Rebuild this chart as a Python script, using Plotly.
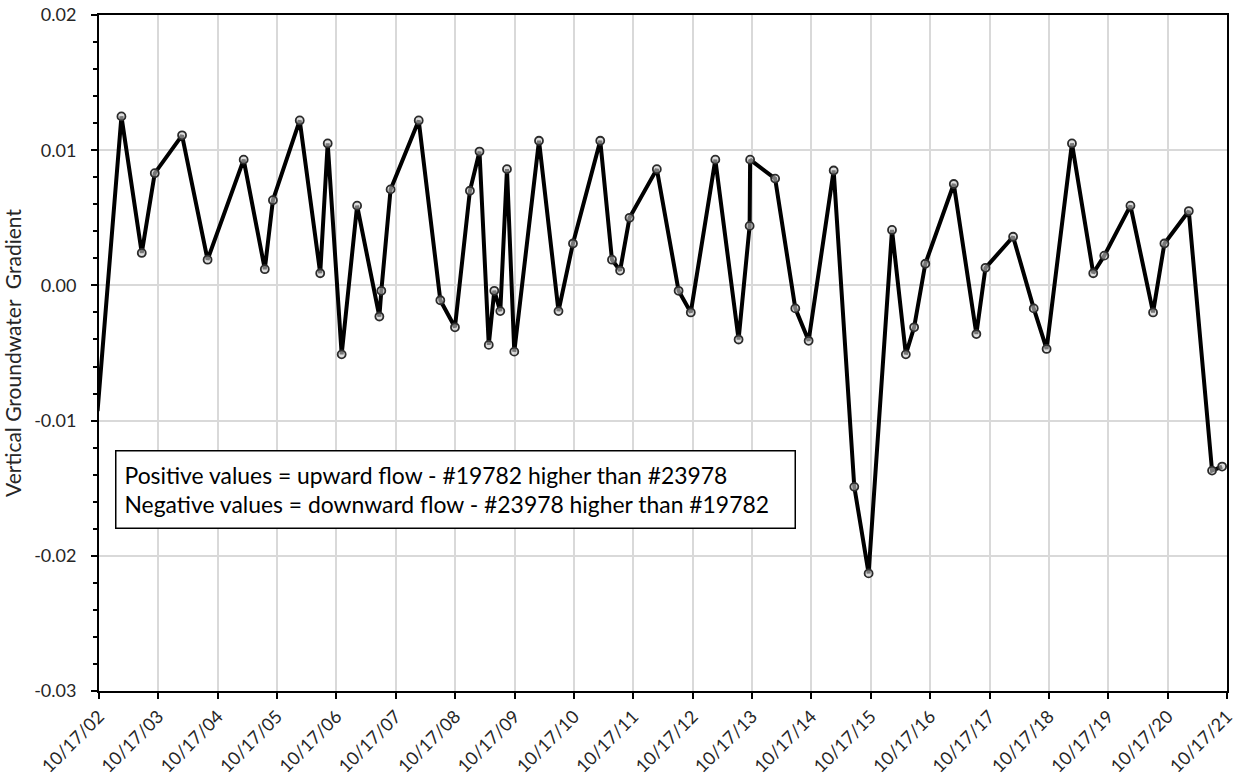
import plotly.graph_objects as go

dates = [
    "2002-10-08", "2003-03-04", "2003-07-07", "2003-09-25", "2004-03-11", "2004-08-15",
    "2005-03-25", "2005-08-02", "2005-09-21", "2006-03-05", "2006-07-09", "2006-08-24",
    "2006-11-18", "2007-02-21", "2007-07-08", "2007-07-20", "2007-09-15", "2008-03-06",
    "2008-07-17", "2008-10-15", "2009-01-15", "2009-03-15", "2009-05-11", "2009-06-14",
    "2009-07-21", "2009-08-31", "2009-10-15", "2010-03-16", "2010-07-14", "2010-10-11",
    "2011-03-28", "2011-06-08", "2011-07-28", "2011-09-24", "2012-03-10", "2012-07-22",
    "2012-10-05", "2013-03-05", "2013-07-26", "2013-10-02", "2013-10-05", "2014-03-08",
    "2014-07-10", "2014-09-30", "2015-03-03", "2015-07-08", "2015-10-04", "2016-02-25",
    "2016-05-20", "2016-07-10", "2016-09-17", "2017-03-11", "2017-07-28", "2017-09-22",
    "2018-03-11", "2018-07-16", "2018-10-03", "2019-03-08", "2019-07-17", "2019-09-23",
    "2020-03-02", "2020-07-19", "2020-09-27", "2021-02-24", "2021-07-17", "2021-09-17",
]
gradient = [
    -0.0093, 0.0125, 0.0024, 0.0083, 0.0111, 0.0019,
    0.0093, 0.0012, 0.0063, 0.0122, 0.0009, 0.0105,
    -0.0051, 0.0059, -0.0023, -0.0004, 0.0071, 0.0122,
    -0.0011, -0.0031, 0.0070, 0.0099, -0.0044, -0.0004,
    -0.0019, 0.0086, -0.0049, 0.0107, -0.0019, 0.0031,
    0.0107, 0.0019, 0.0011, 0.0050, 0.0086, -0.0004,
    -0.0020, 0.0093, -0.0040, 0.0044, 0.0093, 0.0079,
    -0.0017, -0.0041, 0.0085, -0.0149, -0.0213, 0.0041,
    -0.0051, -0.0031, 0.0016, 0.0075, -0.0036, 0.0013,
    0.0036, -0.0017, -0.0047, 0.0105, 0.0009, 0.0022,
    0.0059, -0.0020, 0.0031, 0.0055, -0.0137, -0.0134,
]

x_tickvals = [f"{y}-10-17" for y in range(2002, 2022)]
x_ticktext = [f"10/17/{y % 100:02d}" for y in range(2002, 2022)]
y_tickvals = [0.02, 0.01, 0.0, -0.01, -0.02, -0.03]
y_ticktext = ["0.02", "0.01", "0.00", "-0.01", "-0.02", "-0.03"]

note_lines = [
    "Positive values = upward flow - #19782 higher than #23978",
    "Negative values = downward flow - #23978 higher than #19782",
]

font_family = "Lato, 'Open Sans', sans-serif"
text_color = "#262626"

fig = go.Figure()
fig.add_trace(go.Scatter(
    x=dates, y=gradient, mode="lines+markers",
    line=dict(color="black", width=4),
    marker=dict(symbol="circle", size=8, color="rgba(200,200,200,0.6)",
                line=dict(color="#2b2b2b", width=1.8)),
    cliponaxis=False, showlegend=False,
))

fig.update_layout(
    width=1241, height=776, autosize=False,
    margin=dict(l=99, r=14, t=15, b=85),
    paper_bgcolor="white", plot_bgcolor="white",
    font=dict(family=font_family, color=text_color, size=18),
    xaxis=dict(
        type="date", range=["2002-10-17", "2021-10-17"],
        tickmode="array", tickvals=x_tickvals, ticktext=x_ticktext,
        tickangle=-45, tickfont=dict(size=18),
        ticks="outside", ticklen=6, tickwidth=2, tickcolor="black",
        ticklabeloverflow="allow",
        showgrid=True, gridcolor="#d9d9d9", gridwidth=1.5,
        showline=True, linecolor="black", linewidth=2, mirror=True,
        zeroline=False, automargin=False,
    ),
    yaxis=dict(
        range=[-0.03, 0.02],
        tickmode="array", tickvals=y_tickvals, ticktext=y_ticktext,
        tickfont=dict(size=18),
        ticks="outside", ticklen=6, tickwidth=2, tickcolor="black",
        ticklabelstandoff=11, ticklabeloverflow="allow",
        minor=dict(dtick=0.002, tick0=0, ticks="outside", ticklen=4, tickwidth=2,
                   tickcolor="black", showgrid=False),
        showgrid=True, gridcolor="#d9d9d9", gridwidth=1.5,
        showline=True, linecolor="black", linewidth=2, mirror=True,
        zeroline=False, automargin=False,
        title=dict(text="Vertical Groundwater  Gradient", font=dict(size=21), standoff=11),
    ),
)

fig.add_annotation(
    xref="paper", yref="paper", x=0.0142, y=0.3565,
    xanchor="left", yanchor="top", align="left",
    text="<br>".join(note_lines), showarrow=False,
    font=dict(size=22.9, color="black", family=font_family),
    bgcolor="white", bordercolor="black", borderwidth=1.5, borderpad=8,
    width=662, height=60,
)

fig.write_html("out.html", config={"displayModeBar": False},
               post_script="document.body.style.margin = '0';")
